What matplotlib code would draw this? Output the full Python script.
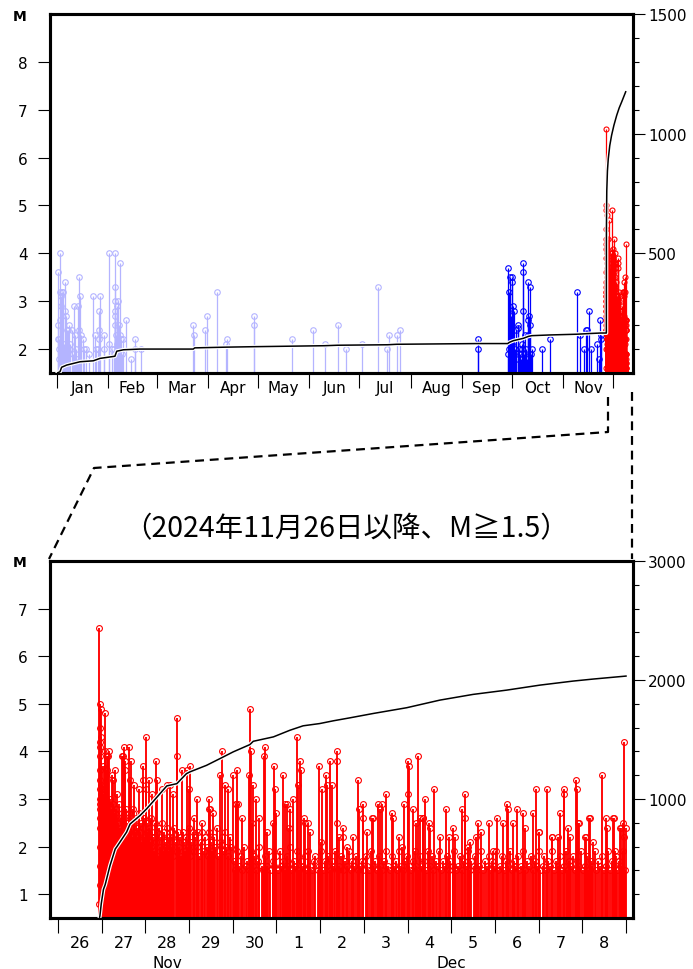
import matplotlib
matplotlib.use("Agg")
import matplotlib.pyplot as plt
import matplotlib.patheffects as pe
from matplotlib.lines import Line2D

plt.rcParams['font.family'] = ['DejaVu Sans']

# ---- upper panel: 2024 events (x = days since 2024-01-01, M) ----
old_day = [0.4, 0.4, 0.8, 1.0, 1.2, 1.5, 1.8, 2.0, 2.0, 2.2, 2.4, 2.6, 3.0, 3.3, 3.8, 4.0, 4.4,
           5.0, 5.0, 5.6, 5.8, 6.0, 6.8, 7.0, 7.4, 8.0, 8.8, 9.5, 10.2, 10.8, 11.5, 12.0, 12.8,
           13.5, 13.5, 14.1, 14.5, 15.5, 16.2, 17.5, 19.0, 21.9, 22.9, 23.5, 24.9, 25.3, 25.5,
           25.5, 25.9, 28.5, 28.5,
           31.1, 31.1, 33.1, 34.2, 34.6, 35.1, 35.1, 35.1, 35.1, 35.1, 35.1, 35.5, 35.9, 35.9,
           36.0, 36.5, 36.8, 37.1, 37.8, 38.2, 38.4, 39.0, 40.0, 41.6, 44.5, 46.8, 47.0, 50.4,
           82.1, 82.7, 89.0, 90.4, 96.6, 101.6, 102.6, 118.9, 118.9, 141.6, 154.5, 161.4,
           169.1, 174.1, 183.9, 193.2, 199.0, 200.2, 204.6, 206.8]
old_mag = [2.5, 2.2, 3.6, 2.0, 1.8, 2.2, 2.6, 4.0, 3.2, 2.0, 2.9, 3.1, 3.2, 1.9, 3.2, 2.1, 2.0,
           3.4, 2.8, 2.7, 2.4, 1.8, 2.4, 2.0, 2.5, 2.1, 2.4, 1.9, 2.9, 2.3, 2.0, 1.8, 2.9,
           3.5, 2.4, 3.1, 2.3, 2.2, 2.0, 2.0, 1.9, 3.1, 2.3, 2.0, 2.0, 2.8, 2.4,
           2.2, 3.1, 2.3, 2.0,
           4.0, 2.1, 2.0, 1.9, 2.0, 4.0, 3.3, 3.0, 2.8, 2.7, 2.5, 2.3, 2.1, 2.9,
           1.8, 3.0, 2.0, 2.5, 3.8, 2.3, 2.2, 1.9, 2.2, 2.6, 1.8, 2.0, 2.2, 2.0,
           2.5, 2.3, 2.4, 2.7, 3.2, 2.1, 2.2, 2.7, 2.5, 2.2, 2.4, 2.1,
           2.5, 2.0, 2.1, 3.3, 2.0, 2.3, 2.3, 2.4]

recent_day = [253.4, 253.4, 271.5, 271.8, 272.2, 272.5, 272.9, 273.3, 273.6, 273.9, 274.3, 274.3,
              274.6, 274.9, 275.5, 275.9, 276.3, 276.8, 277.5, 277.9, 278.3, 278.8, 279.4, 279.9,
              280.4, 280.9, 280.9, 280.9, 281.4, 281.9, 282.4, 282.9, 283.5, 283.9, 283.9, 284.5,
              284.9, 285.0, 285.5, 286.0, 292.0, 297.0, 313.4, 315.0, 317.7, 318.5, 319.3, 320.7,
              321.7, 325.1, 326.5, 327.3, 327.8, 328.0]
recent_mag = [2.2, 2.0, 3.7, 1.9, 2.0, 3.2, 3.5, 2.7, 1.8, 3.5, 3.4, 2.1,
              1.9, 2.9, 2.8, 2.0, 2.4, 1.8, 2.5, 2.45, 2.0, 1.9, 1.8, 2.1,
              2.0, 3.8, 3.6, 2.8, 1.9, 2.3, 2.0, 1.8, 2.3, 3.4, 2.6, 2.7,
              3.3, 2.5, 1.9, 2.0, 2.0, 2.2, 3.2, 2.3, 2.0, 2.4, 2.4, 2.8,
              2.0, 2.1, 1.8, 2.6, 2.3, 2.2]

top_cum_day = [0.4, 1.8, 2.8, 5.8, 13.9, 21.9, 25.9, 34.9, 36.0, 40.0, 50.0, 82.1, 83.0, 102.0,
               119.0, 161.0, 169.0, 199.0, 204.6, 253.4, 271.5, 272.5, 274.9, 281.0, 284.0,
               286.0, 297.0, 313.0, 321.0, 327.5, 330.95, 331.0, 331.2, 331.6, 332.1, 333.0,
               334.1, 335.5, 337.2, 338.7, 340.2, 342.6]
top_cum_n = [1, 5, 24, 33, 47, 51, 61, 70, 91, 97, 100, 100, 105, 108,
             110, 114, 116, 118, 120, 123, 123, 128, 135, 145, 153,
             156, 159, 162, 165, 167, 167, 600, 760, 845, 895, 950,
             993, 1035, 1077, 1108, 1133, 1175]

month_start = [0, 31, 60, 91, 121, 152, 182, 213, 244, 274, 305, 335]
month_names = ['Jan', 'Feb', 'Mar', 'Apr', 'May', 'Jun', 'Jul', 'Aug', 'Sep', 'Oct', 'Nov']

# ---- lower panel: events since 2024-11-26 (x = days since Nov 26 00:00, M) ----
big_t = [0.949, 0.950, 0.951, 0.952, 0.953, 0.961, 0.984, 0.984, 1.037, 1.083, 1.083, 1.114,
         1.114, 1.152, 1.175, 1.228, 1.266, 1.312, 1.358, 1.457, 1.495, 1.518, 1.533, 1.533,
         1.617, 1.648, 1.663, 1.739, 1.861, 1.953, 1.953, 2.006, 2.014, 2.082, 2.143, 2.250,
         2.273, 2.388, 2.487, 2.563, 2.639, 2.715, 2.715, 2.830, 2.944, 3.005, 3.021, 3.112,
         3.173, 3.303, 3.455, 3.455, 3.480, 3.555, 3.715, 3.753, 3.822, 3.898, 4.012, 4.070,
         4.073, 4.104, 4.127, 4.218, 4.363, 4.394, 4.409, 4.432, 4.470, 4.523, 4.607, 4.722,
         4.744, 4.775, 4.930, 4.950, 4.966, 4.989, 5.156, 5.200, 5.233, 5.278, 5.310, 5.385,
         5.462, 5.484, 5.538, 5.561, 5.637, 5.650, 5.713, 5.770, 5.980, 6.018, 6.041, 6.133,
         6.148, 6.224, 6.262, 6.377, 6.377, 6.392, 6.438, 6.514, 6.530, 6.606,
         6.758, 6.873, 6.895, 6.987, 6.987, 7.063, 7.185, 7.200, 7.330, 7.368, 7.422, 7.498,
         7.635, 7.658, 7.811, 7.864, 7.925, 8.017, 8.017, 8.032, 8.131, 8.190, 8.238, 8.284,
         8.345, 8.360, 8.398, 8.497, 8.513, 8.612, 8.740, 8.879, 8.955, 9.046, 9.085, 9.253,
         9.314, 9.314, 9.390, 9.430, 9.558, 9.619, 9.680, 9.863, 9.962, 10.038, 10.191, 10.267,
         10.290, 10.420, 10.496, 10.633, 10.687, 10.862, 10.938, 11.014, 11.020, 11.182, 11.297,
         11.310, 11.450, 11.487, 11.579, 11.587, 11.678, 11.716, 11.846, 11.884, 11.910, 11.915,
         12.059, 12.080, 12.159, 12.180, 12.235, 12.441, 12.540, 12.555, 12.708, 12.730, 12.746,
         12.860, 12.890, 12.937, 12.944, 12.960, 12.998]
big_m = [6.6, 5.0, 4.5, 4.1, 3.9, 4.2, 4.9, 4.3, 3.7, 4.8, 4.0, 3.9,
         3.6, 3.9, 4.0, 3.5, 3.4, 3.6, 3.1, 3.9, 3.9, 4.1, 3.8, 3.6,
         4.1, 3.4, 3.8, 3.3, 3.2, 3.7, 3.4, 3.2, 4.3, 3.4, 3.1, 3.8,
         3.4, 3.2, 3.3, 3.3, 3.1, 4.7, 3.9, 3.6, 3.6, 3.2, 3.7, 2.6,
         3.0, 2.5, 3.0, 2.8, 2.8, 2.7, 3.5, 4.0, 3.3, 3.2, 3.5, 2.9,
         2.9, 3.6, 2.9, 2.6, 3.5, 4.9, 4.0, 2.5, 3.3, 3.0, 2.6, 3.9,
         4.1, 2.3, 2.5, 3.7, 3.2, 2.7, 3.5, 2.9, 2.9, 2.4, 2.8, 3.0,
         4.3, 3.3, 3.8, 3.6, 2.6, 2.5, 2.5, 2.3, 3.7, 2.1, 3.2, 3.5,
         3.3, 3.8, 3.3, 4.0, 3.8, 2.5, 2.2, 2.4, 2.2, 2.0,
         2.2, 3.4, 2.8, 2.9, 2.6, 2.3, 2.6, 2.6, 2.9, 2.8, 2.9, 3.1,
         2.7, 2.6, 2.2, 2.0, 2.9, 3.8, 3.1, 3.7, 2.8, 2.5, 3.9, 2.6,
         2.6, 2.6, 3.0, 2.5, 2.4, 3.2, 2.2, 2.8, 2.2, 2.4, 2.2, 2.8,
         3.1, 2.6, 2.0, 2.1, 2.2, 2.5, 2.3, 2.5, 1.9, 2.6, 2.5, 2.9,
         2.8, 2.5, 2.8, 2.7, 2.4, 2.7, 3.2, 2.3, 2.3, 3.2, 2.2,
         2.2, 2.2, 2.7, 3.2, 3.1, 2.4, 2.2, 3.4, 3.2, 2.5, 2.5,
         2.2, 2.2, 2.6, 2.6, 2.1, 3.5, 2.6, 2.4, 2.6, 2.6, 1.9,
         2.4, 2.4, 2.5, 4.2, 2.2, 2.4]

low_t = [0.949, 0.950, 0.951, 0.952, 0.953, 0.954, 0.956, 0.958, 0.960, 0.963, 0.966, 0.970,
         0.974, 0.978, 0.983, 0.988, 0.993, 0.999, 1.005, 1.011, 1.018, 1.025, 1.032, 1.040,
         1.048, 1.056, 1.064, 1.073, 1.081, 1.090, 1.099, 1.108, 1.118, 1.128, 1.139, 1.149,
         1.160, 1.171, 1.183, 1.195, 1.207, 1.219, 1.232, 1.245, 1.258, 1.271, 1.285, 1.299,
         1.313, 1.327, 1.342, 1.357, 1.372, 1.387, 1.403, 1.419, 1.435, 1.451, 1.467, 1.484,
         1.500, 1.514, 1.528, 1.543, 1.557, 1.571, 1.586, 1.600, 1.615, 1.630, 1.645, 1.660,
         1.676, 1.691, 1.706, 1.722, 1.738, 1.754, 1.770, 1.786, 1.802, 1.818, 1.835, 1.851,
         1.868, 1.885, 1.902, 1.919, 1.936, 1.954, 1.972, 1.990, 2.008, 2.026, 2.045, 2.063,
         2.082, 2.101, 2.120, 2.140, 2.160, 2.180, 2.200, 2.221, 2.242, 2.263, 2.284, 2.306,
         2.328, 2.350, 2.372, 2.395, 2.418, 2.441, 2.465, 2.489,
         2.513, 2.537, 2.562, 2.587, 2.612, 2.638, 2.664, 2.690, 2.716, 2.743, 2.770, 2.797,
         2.824, 2.852, 2.880, 2.908, 2.937, 2.966, 2.995, 3.024, 3.054, 3.084, 3.114, 3.145,
         3.176, 3.207, 3.238, 3.270, 3.302, 3.334, 3.367, 3.400, 3.433, 3.466, 3.500, 3.534,
         3.568, 3.603, 3.638, 3.673, 3.708, 3.744, 3.780, 3.816, 3.852, 3.889, 3.926, 3.963,
         4.02, 4.06, 4.09, 4.14, 4.18, 4.21, 4.25, 4.30, 4.33, 4.37, 4.42, 4.46, 4.49, 4.54,
         4.58, 4.61, 4.66, 4.70, 4.74, 4.78, 4.82, 4.86, 4.91, 4.94, 4.98, 5.03, 5.07, 5.10,
         5.15, 5.19, 5.23, 5.27, 5.31, 5.36, 5.40, 5.43, 5.48, 5.52, 5.56, 5.60, 5.65, 5.69,
         5.72, 5.77, 5.81, 5.85, 5.89, 5.94, 5.97, 6.02, 6.06, 6.10, 6.15, 6.18, 6.23, 6.27,
         6.31, 6.35, 6.40, 6.44, 6.48, 6.53, 6.57, 6.61, 6.65, 6.70, 6.73, 6.78, 6.82, 6.86,
         6.91, 6.95, 6.99, 7.04, 7.08, 7.12, 7.17, 7.21, 7.25, 7.29, 7.34, 7.38, 7.42, 7.47,
         7.51, 7.55, 7.60, 7.64, 7.68, 7.73, 7.77, 7.81, 7.86, 7.90, 7.94, 7.99, 8.03, 8.07,
         8.12, 8.16, 8.20, 8.25, 8.29, 8.33, 8.38, 8.42, 8.46, 8.51, 8.55, 8.59, 8.64, 8.68,
         8.72, 8.77, 8.81, 8.85, 8.90, 8.94, 8.98, 9.03, 9.07, 9.11, 9.16, 9.20, 9.24, 9.29,
         9.33, 9.38, 9.42, 9.46, 9.51, 9.55, 9.59, 9.64, 9.68, 9.73, 9.77, 9.81, 9.86, 9.90,
         9.94, 9.99, 10.03, 10.08, 10.12, 10.16, 10.21, 10.25, 10.30, 10.34, 10.38, 10.43,
         10.47, 10.52, 10.56, 10.60, 10.65, 10.69, 10.74, 10.78, 10.82, 10.87, 10.91, 10.96,
         11.00, 11.04, 11.09, 11.13, 11.18, 11.22, 11.26, 11.31, 11.35, 11.40, 11.44, 11.48,
         11.53, 11.57, 11.62, 11.66, 11.70, 11.75, 11.79, 11.84, 11.88, 11.92, 11.97, 12.01,
         12.06, 12.10, 12.14, 12.19, 12.23, 12.28, 12.32, 12.36, 12.41, 12.45, 12.50, 12.54,
         12.58, 12.63, 12.67, 12.72, 12.76, 12.80, 12.85, 12.89, 12.93, 12.97]
low_m = [0.8, 1.2, 1.6, 2.0, 2.4, 2.8, 3.2, 3.6, 3.0, 2.6, 3.4, 2.9,
         3.1, 2.7, 3.3, 2.5, 3.0, 2.8, 3.2, 2.6, 2.9, 3.1, 2.4, 2.8,
         3.0, 2.6, 2.7, 3.3, 2.5, 2.9, 2.6, 3.0, 2.4, 2.8, 2.5, 2.9,
         2.3, 2.7, 2.6, 3.0, 2.4, 2.8, 2.5, 2.2, 2.9, 2.6, 2.3, 2.7,
         2.4, 2.8, 2.2, 2.6, 2.5, 2.3, 2.9, 2.4, 2.6, 2.2, 2.7, 2.5,
         2.3, 2.6, 2.1, 2.4, 2.8, 2.2, 2.5, 2.0, 2.7, 2.3, 2.1, 2.6,
         2.4, 2.0, 2.8, 2.2, 2.5, 2.1, 2.3, 2.6, 1.9, 2.4, 2.2, 2.7,
         2.0, 2.3, 2.5, 2.1, 2.4, 1.9, 2.6, 2.2, 2.0, 2.5, 2.3, 1.9,
         2.4, 2.1, 2.6, 2.0, 2.3, 2.2, 1.9, 2.5, 2.1, 2.3, 1.8, 2.4,
         2.0, 2.2, 2.5, 1.9, 2.3, 2.1, 2.0, 2.4,
         2.2, 1.9, 2.3, 2.0, 2.2, 1.8, 2.4, 2.1, 1.9, 2.3, 2.0, 2.2,
         1.8, 2.3, 2.1, 1.9, 2.2, 2.0, 2.4, 1.8, 2.1, 2.3, 1.9, 2.2,
         2.0, 2.3, 1.8, 2.1, 2.3, 1.9, 2.2, 2.0, 1.8, 2.3, 2.1, 1.9,
         2.2, 2.0, 2.4, 1.8, 2.1, 2.2, 1.9, 2.3, 2.0, 1.8, 2.2, 2.0,
         1.7, 1.5, 1.9, 1.6, 1.8, 1.5, 2.0, 1.6, 1.7, 1.5, 1.9, 1.6, 1.8, 1.5,
         1.7, 2.0, 1.6, 1.5, 1.8, 1.6, 1.9, 1.5, 1.7, 1.6, 1.8, 1.5, 1.9, 1.6,
         1.7, 1.5, 1.8, 1.6, 2.0, 1.5, 1.7, 1.6, 1.9, 1.5, 1.7, 1.6, 1.8, 1.5,
         1.9, 1.6, 1.5, 1.7, 1.8, 1.5, 1.6, 1.9, 1.5, 1.7, 1.6, 1.8, 1.5, 1.7,
         1.6, 1.9, 1.5, 1.6, 1.8, 1.5, 1.7, 1.6, 1.9, 1.5, 1.7, 1.6, 1.8, 1.5,
         1.6, 1.7, 1.5, 1.8, 1.6, 1.5, 1.9, 1.6, 1.7, 1.5, 1.8, 1.6, 1.5, 1.7,
         1.9, 1.6, 1.5, 1.8, 1.6, 1.7, 1.5, 1.9, 1.6, 1.5, 1.7, 1.8, 1.6, 1.5,
         1.7, 1.9, 1.6, 1.5, 1.8, 1.6, 1.7, 1.5, 1.9, 1.6, 1.8, 1.5, 1.7, 1.6,
         1.9, 1.5, 1.7, 1.6, 1.8, 1.5, 1.7, 1.6, 1.9, 1.5, 1.6, 1.8, 1.5, 1.7,
         1.6, 1.9, 1.5, 1.7, 1.6, 1.8, 1.5, 1.6, 1.9, 1.5, 1.7, 1.6, 1.8, 1.5,
         1.7, 1.6, 1.9, 1.5, 1.6, 1.8, 1.5, 1.7, 1.6, 1.9, 1.5, 1.7,
         1.6, 1.8, 1.5, 1.6, 1.9, 1.5, 1.7, 1.6, 1.8, 1.5, 1.7, 1.6,
         1.9, 1.5, 1.6, 1.8, 1.5, 1.7, 1.6, 1.9, 1.5, 1.7, 1.6, 1.8,
         1.5, 1.6, 1.9, 1.5, 1.7, 1.6, 1.8, 1.5, 1.7, 1.6, 1.9, 1.5,
         1.6, 1.8, 1.5, 1.7, 1.6, 1.9, 1.5, 1.7, 1.6, 1.8, 1.5, 1.6,
         1.9, 1.5, 1.7, 1.6, 1.8, 1.5, 1.7, 1.6, 1.9, 1.5]

cum_t = [0.949, 0.96, 0.99, 1.04, 1.08, 1.19, 1.31, 1.34, 1.57, 1.65, 1.88, 2.03, 2.18, 2.49,
         2.72, 2.94, 3.02, 3.40, 3.71, 4.01, 4.39, 4.47, 4.93, 5.31, 5.61, 5.99, 6.30, 6.68,
         7.22, 7.98, 8.74, 9.50, 10.27, 11.03, 11.79, 12.25, 13.0]
cum_n = [0, 20, 120, 240, 280, 440, 580, 595, 722, 790, 862, 918, 980, 1110,
         1129, 1213, 1228, 1283, 1340, 1396, 1457, 1485, 1522, 1578, 1615, 1634, 1657, 1682,
         1719, 1767, 1831, 1879, 1915, 1957, 1991, 2008, 2033]

day_names = ['26', '27', '28', '29', '30', '1', '2', '3', '4', '5', '6', '7', '8']
title = '（2024年11月26日以降、M≧1.5）'

# ---- layout in pixels ----
W, H = 693, 970
fig = plt.figure(figsize=(W / 100, H / 100), dpi=100)


def fx(px):
    return px / W


def fy(py):
    return 1 - py / H


ax1 = fig.add_axes([fx(50), fy(374), fx(633) - fx(50), fy(15) - fy(374)])
ax2 = fig.add_axes([fx(50), fy(919), fx(633) - fx(50), fy(562) - fy(919)])

LIGHT = '#b4b4ff'
BLUE = '#0000ff'
RED = '#ff0000'
halo = [pe.Stroke(linewidth=2.8, foreground='white'), pe.Normal()]


def stems(ax, x, m, color, bottom, lw=0.8, ms=4.0):
    ax.vlines(x, bottom, m, colors=color, lw=lw, zorder=2)
    ax.plot(x, m, 'o', ls='none', ms=ms, mfc='none', mec=color, mew=0.8, zorder=3)


# upper panel
stems(ax1, old_day, old_mag, LIGHT, 1.5, lw=0.9)
stems(ax1, recent_day, recent_mag, BLUE, 1.5, lw=0.9)
stems(ax1, [330 + t for t in low_t], low_m, RED, 1.5, lw=0.9, ms=3.6)
stems(ax1, [330 + t for t in big_t], big_m, RED, 1.5, lw=0.9, ms=3.6)
ax1.set_xlim(-4.2, 347)
ax1.set_ylim(1.5, 9)
ax1.set_yticks(range(2, 9))
ax1.set_xticks(month_start)
ax1.set_xticklabels([])
ax1.set_xticks([(month_start[i] + month_start[i + 1]) / 2 for i in range(11)], minor=True)
ax1.set_xticklabels(month_names, minor=True)
ax1.tick_params(axis='x', which='major', direction='out', length=11, width=0.8)
ax1.tick_params(axis='x', which='minor', length=0, pad=5, labelsize=11)

ax1r = ax1.twinx()
ax1r.plot(top_cum_day, top_cum_n, color='black', lw=1.1, path_effects=halo, zorder=5)
ax1r.set_ylim(0, 1500)
ax1r.set_yticks([500, 1000, 1500])
ax1r.set_yticks([v for v in range(100, 1500, 100) if v % 500], minor=True)

# lower panel
stems(ax2, low_t, low_m, RED, 0.5, lw=1.35, ms=4.2)
stems(ax2, big_t, big_m, RED, 0.5, lw=1.35, ms=4.2)
ax2.set_xlim(-0.183, 13.16)
ax2.set_ylim(0.5, 8)
ax2.set_yticks(range(1, 8))
ax2.set_xticks(range(14))
ax2.set_xticklabels([])
ax2.set_xticks([d + 0.5 for d in range(13)], minor=True)
ax2.set_xticklabels(day_names, minor=True)
ax2.tick_params(axis='x', which='major', direction='out', length=11, width=0.8)
ax2.tick_params(axis='x', which='minor', length=0, pad=12, labelsize=11.5)
for lab, xpos in [('Nov', 2.5), ('Dec', 9.0)]:
    ax2.annotate(lab, xy=(xpos, 0), xycoords=('data', 'axes fraction'),
                 xytext=(0, -32), textcoords='offset points',
                 ha='center', va='center', fontsize=11)

ax2r = ax2.twinx()
ax2r.plot(cum_t, cum_n, color='black', lw=1.1, path_effects=halo, zorder=5)
ax2r.set_ylim(0, 3000)
ax2r.set_yticks([1000, 2000, 3000])
ax2r.set_yticks([v for v in range(200, 3000, 200) if v % 1000], minor=True)

for ax in (ax1, ax2):
    ax.tick_params(axis='y', direction='out', length=8.5, width=0.8, pad=7.5, labelsize=11)
for ax in (ax1r, ax2r):
    ax.tick_params(axis='y', which='major', direction='out', length=8.5, width=0.8,
                   pad=2.5, labelsize=11)
    ax.tick_params(axis='y', which='minor', direction='out', length=4, width=0.8)
for ax in (ax1, ax2, ax1r, ax2r):
    for s in ax.spines.values():
        s.set_linewidth(2.2)

# "M" headers over the magnitude axes
fig.text(fx(20), fy(17), 'M', ha='center', va='center', fontsize=10, fontweight='bold')
fig.text(fx(20), fy(563), 'M', ha='center', va='center', fontsize=10, fontweight='bold')

# dashed connector from the upper panel to the enlarged lower panel
dash = dict(transform=fig.transFigure, color='black', lw=1.6, ls=(0, (4, 2.6)))
fig.add_artist(Line2D([fx(608), fx(608), fx(94), fx(49)],
                      [fy(398), fy(433), fy(469), fy(560)], **dash))
fig.add_artist(Line2D([fx(632), fx(632)], [fy(393), fy(560)], **dash))

fig.text(fx(346), fy(529), title, ha='center', va='center', fontsize=20.5,
         family=['Noto Sans CJK JP', 'DejaVu Sans'])

fig.savefig('out.png', dpi=100)
